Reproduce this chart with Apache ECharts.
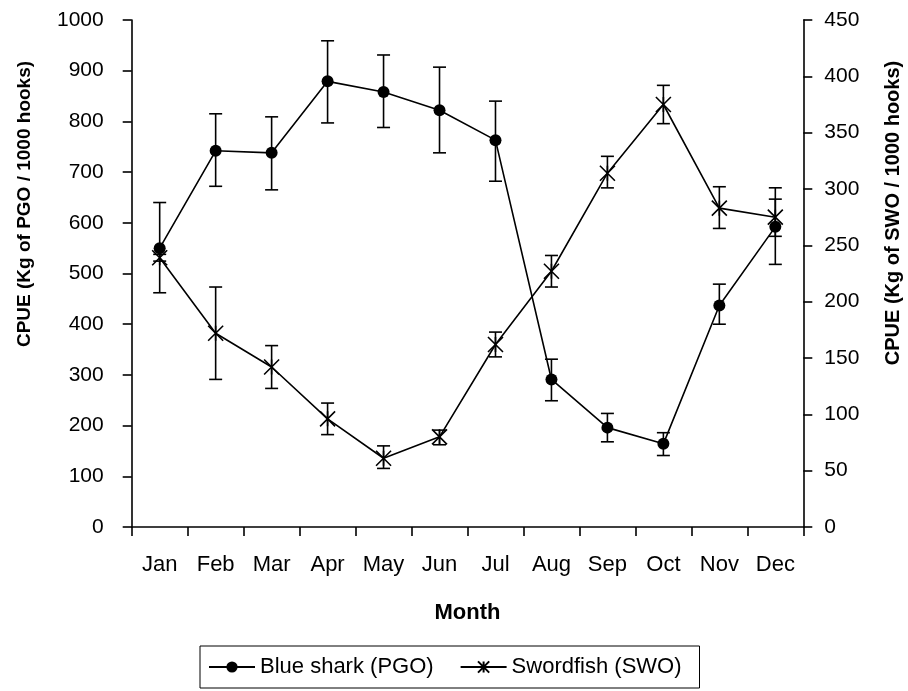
<!DOCTYPE html>
<html>
<head>
<meta charset="utf-8">
<script src="https://cdn.jsdelivr.net/npm/echarts@6/dist/echarts.min.js"></script>
<style>
html,body{margin:0;padding:0;background:#fff;}
#chart{width:908px;height:691px;}
</style>
</head>
<body>
<div id="chart"></div>
<script>
const months = ['Jan','Feb','Mar','Apr','May','Jun','Jul','Aug','Sep','Oct','Nov','Dec'];
const pgo     = [550, 742, 738, 879, 858, 822, 763, 291, 196, 164, 437, 592];
const pgoLow  = [462, 672, 665, 797, 788, 738, 682, 249, 168, 141, 400, 518];
const pgoHigh = [640, 815, 809, 959, 931, 907, 840, 331, 224, 186, 479, 669];
const swo     = [239, 172, 142, 96, 61, 80, 162, 227, 314, 375, 283, 275];
const swoLow  = [236, 131, 123, 82, 52, 73, 151, 213, 301, 358, 265, 258];
const swoHigh = [242, 213, 161, 110, 72, 86, 173, 241, 329, 392, 302, 291];
const leftTicks = [0, 1000, 100];
const rightTicks = [0, 450, 50];

const FONT = 'Liberation Sans, Arial, sans-serif';
const chart = echarts.init(document.getElementById('chart'), null, {renderer:'canvas'});

function errorItem() {
  return function (params, api) {
    const i = api.value(0);
    const hi = api.coord([i, api.value(2)]);
    const lo = api.coord([i, api.value(1)]);
    const w = 6.5;
    const st = {stroke:'#000', lineWidth:1.6};
    return {
      type:'group',
      children:[
        {type:'line', shape:{x1:hi[0], y1:hi[1], x2:lo[0], y2:lo[1]}, style:st},
        {type:'line', shape:{x1:hi[0]-w, y1:hi[1], x2:hi[0]+w, y2:hi[1]}, style:st},
        {type:'line', shape:{x1:lo[0]-w, y1:lo[1], x2:lo[0]+w, y2:lo[1]}, style:st}
      ]
    };
  };
}

const starPath = 'path://M0,0 L10,10 M10,0 L0,10 M5,0 L5,10';

const option = {
  backgroundColor:'#fff',
  animation:false,
  grid:{left:131.7, right:104.7, top:20, bottom:164},
  xAxis:{
    type:'category',
    data:months,
    boundaryGap:true,
    axisLine:{lineStyle:{color:'#000', width:1.6}},
    axisTick:{show:true, length:9, lineStyle:{color:'#000', width:1.6}},
    axisLabel:{color:'#000', fontFamily:FONT, fontSize:22, margin:27},
    name:'Month',
    nameLocation:'middle',
    nameGap:75,
    nameTextStyle:{color:'#000', fontFamily:FONT, fontSize:22, fontWeight:'bold'}
  },
  yAxis:[
    {
      type:'value', min:leftTicks[0], max:leftTicks[1], interval:leftTicks[2],
      position:'left',
      axisLine:{show:true, lineStyle:{color:'#000', width:1.6}},
      axisTick:{show:true, length:9, lineStyle:{color:'#000', width:1.6}},
      axisLabel:{color:'#000', fontFamily:FONT, fontSize:21, margin:28, formatter:v=>String(v)},
      splitLine:{show:false}
    },
    {
      type:'value', min:rightTicks[0], max:rightTicks[1], interval:rightTicks[2],
      position:'right',
      axisLine:{show:true, lineStyle:{color:'#000', width:1.6}},
      axisTick:{show:true, length:9, lineStyle:{color:'#000', width:1.6}},
      axisLabel:{color:'#000', fontFamily:FONT, fontSize:21, margin:21, formatter:v=>String(v)},
      splitLine:{show:false}
    }
  ],
  legend:{
    left:200, top:646,
    padding:[10,18,10,8],
    borderColor:'#000', borderWidth:1,
    itemWidth:46, itemHeight:14, itemGap:26,
    textStyle:{color:'#000', fontFamily:FONT, fontSize:22},
    data:['Blue shark (PGO)','Swordfish (SWO)']
  },
  graphic:[
    {type:'text', x:25, y:204, rotation:Math.PI/2,
     style:{text:'CPUE (Kg of PGO / 1000 hooks)', fill:'#000', font:'bold 19px Liberation Sans, Arial, sans-serif', align:'center', verticalAlign:'middle'}},
    {type:'text', x:893, y:213, rotation:Math.PI/2,
     style:{text:'CPUE (Kg of SWO / 1000 hooks)', fill:'#000', font:'bold 20px Liberation Sans, Arial, sans-serif', align:'center', verticalAlign:'middle'}}
  ],
  series:[
    {
      type:'custom', name:'pgoErr', yAxisIndex:0, silent:true, z:1,
      renderItem:errorItem(),
      encode:{x:0, y:[1,2]},
      data:months.map((m,i)=>[i, pgoLow[i], pgoHigh[i]])
    },
    {
      type:'custom', name:'swoErr', yAxisIndex:1, silent:true, z:1,
      renderItem:errorItem(),
      encode:{x:0, y:[1,2]},
      data:months.map((m,i)=>[i, swoLow[i], swoHigh[i]])
    },
    {
      type:'line', name:'Blue shark (PGO)', yAxisIndex:0, z:3,
      data:pgo,
      symbol:'circle', symbolSize:12,
      lineStyle:{color:'#000', width:1.6},
      itemStyle:{color:'#000'}
    },
    {
      type:'line', name:'Swordfish (SWO)', yAxisIndex:1, z:3,
      data:swo,
      symbol:starPath, symbolSize:[15,15],
      lineStyle:{color:'#000', width:1.6},
      itemStyle:{color:'#000', borderColor:'#000', borderWidth:1.6}
    }
  ]
};
chart.setOption(option);
</script>
</body>
</html>
